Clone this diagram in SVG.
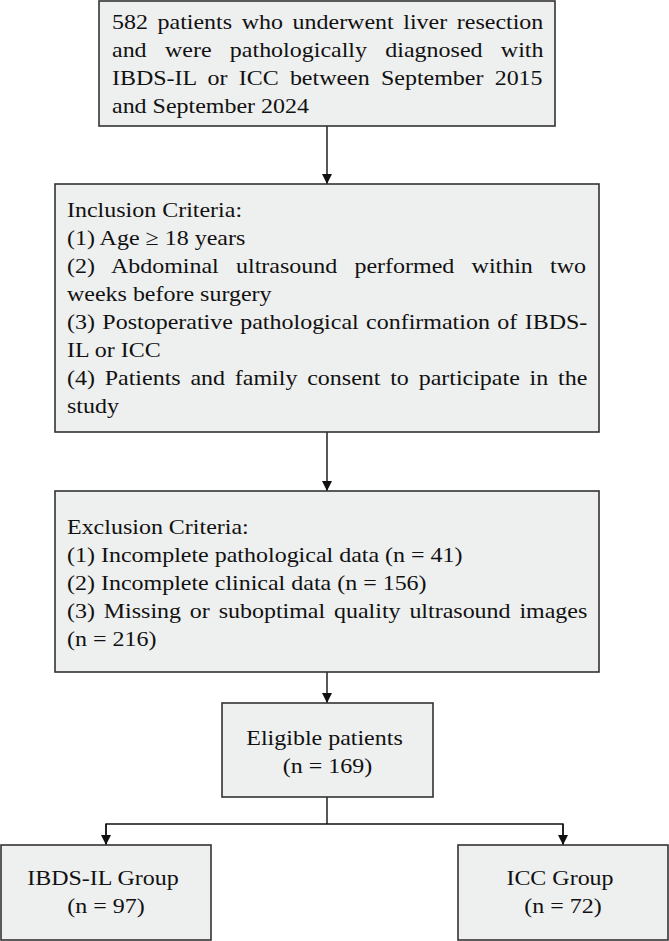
<svg xmlns="http://www.w3.org/2000/svg" width="669" height="941" viewBox="0 0 669 941">
<defs>
<style>
.box{fill:#eeefef;stroke:#333;stroke-width:1.6}
.t{font-family:"Liberation Serif","Times New Roman",serif;font-size:22px;fill:#111}
.c{text-anchor:middle}
.ln{fill:none;stroke:#111;stroke-width:1.4}
</style>
<marker id="ah" markerUnits="userSpaceOnUse" markerWidth="10" markerHeight="10" refX="10" refY="5" orient="auto">
<path d="M0,0 L10,5 L0,10 z" fill="#111"/>
</marker>
</defs>
<rect width="669" height="941" fill="#fff"/>
<g id="connectors">
<line class="ln" x1="327" y1="126" x2="327" y2="184" marker-end="url(#ah)"/>
<line class="ln" x1="327" y1="432" x2="327" y2="491" marker-end="url(#ah)"/>
<line class="ln" x1="327" y1="672" x2="327" y2="703" marker-end="url(#ah)"/>
<polyline class="ln" points="327,797 327,824"/>
<polyline class="ln" points="106,845 106,824 563,824 563,845"/>
<line class="ln" x1="106" y1="824" x2="106" y2="845" marker-end="url(#ah)"/>
<line class="ln" x1="563" y1="824" x2="563" y2="845" marker-end="url(#ah)"/>
</g>
<g id="node-start">
<rect class="box" x="99" y="1" width="456" height="125"/>
<text class="t" transform="translate(112,0) scale(1.09 1)">
<tspan x="0" y="29" word-spacing="3.3">582 patients who underwent liver resection</tspan>
<tspan x="0" y="57" word-spacing="11.33">and were pathologically diagnosed with</tspan>
<tspan x="0" y="85" word-spacing="4.79">IBDS-IL or ICC between September 2015</tspan>
<tspan x="0" y="113">and September 2024</tspan>
</text>
</g>
<g id="node-inclusion">
<rect class="box" x="55" y="184" width="544" height="248"/>
<text class="t" transform="translate(67,0) scale(1.09 1)">
<tspan x="0" y="217">Inclusion Criteria:</tspan>
<tspan x="0" y="245">(1) Age ≥ 18 years</tspan>
<tspan x="0" y="273" word-spacing="10.35">(2) Abdominal ultrasound performed within two</tspan>
<tspan x="0" y="301">weeks before surgery</tspan>
<tspan x="0" y="329" word-spacing="1.3">(3) Postoperative pathological confirmation of IBDS-</tspan>
<tspan x="0" y="357">IL or ICC</tspan>
<tspan x="0" y="385" word-spacing="3.49">(4) Patients and family consent to participate in the</tspan>
<tspan x="0" y="413">study</tspan>
</text>
</g>
<g id="node-exclusion">
<rect class="box" x="55" y="491" width="544" height="181"/>
<text class="t" transform="translate(67,0) scale(1.09 1)">
<tspan x="0" y="534">Exclusion Criteria:</tspan>
<tspan x="0" y="562">(1) Incomplete pathological data (n = 41)</tspan>
<tspan x="0" y="590">(2) Incomplete clinical data (n = 156)</tspan>
<tspan x="0" y="618" word-spacing="2.6">(3) Missing or suboptimal quality ultrasound images</tspan>
<tspan x="0" y="646">(n = 216)</tspan>
</text>
</g>
<g id="node-eligible">
<rect class="box" x="222" y="703" width="211" height="94"/>
<text class="t c" transform="translate(327.5,0) scale(1.09 1)">
<tspan x="0" y="745">Eligible patients</tspan>
<tspan x="0" y="773">(n = 169)</tspan>
</text>
</g>
<g id="node-ibds">
<rect class="box" x="1" y="845" width="210" height="95"/>
<text class="t c" transform="translate(106,0) scale(1.09 1)">
<tspan x="0" y="885">IBDS-IL Group</tspan>
<tspan x="0" y="913">(n = 97)</tspan>
</text>
</g>
<g id="node-icc">
<rect class="box" x="458" y="845" width="210" height="95"/>
<text class="t c" transform="translate(563,0) scale(1.09 1)">
<tspan x="0" y="885">ICC Group</tspan>
<tspan x="0" y="913">(n = 72)</tspan>
</text>
</g>
</svg>
